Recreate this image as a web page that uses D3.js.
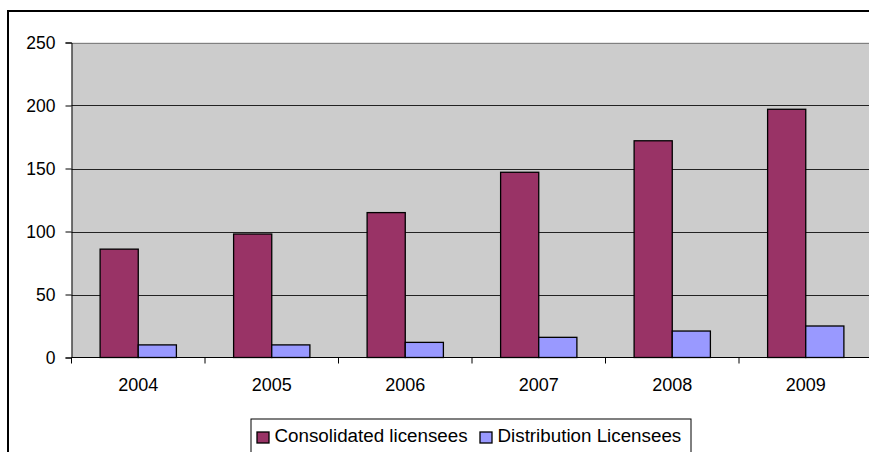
<!DOCTYPE html>
<html>
<head>
<meta charset="utf-8">
<script src="https://cdn.jsdelivr.net/npm/d3@7"></script>
<style>
  html, body { margin: 0; padding: 0; background: #fff; overflow: hidden; }
  svg { display: block; font-family: "Liberation Sans", Arial, sans-serif; }
</style>
</head>
<body>
<svg id="chart" width="900" height="452"></svg>
<script>
// Licensee counts per year
const years = ["2004", "2005", "2006", "2007", "2008", "2009"];
const consolidated = [86, 98, 115, 147, 172, 197];
const distribution = [10, 10, 12, 16, 21, 25];
const seriesNames = ["Consolidated licensees", "Distribution Licensees"];
const seriesColors = ["#993366", "#9999FF"];
const yTicks = [0, 50, 100, 150, 200, 250];

const svg = d3.select("#chart");
const plot = { left: 71.5, right: 872.5, top: 42.5, bottom: 357.5 };

// Outer chart frame
svg.append("rect")
  .attr("x", 8).attr("y", 11)
  .attr("width", 950).attr("height", 500)
  .attr("fill", "#fff").attr("stroke", "#000").attr("stroke-width", 2);

const x = d3.scaleBand().domain(years).range([plot.left, plot.right]);
const xInner = d3.scaleBand().domain(seriesNames)
  .range([0, x.bandwidth()]).paddingOuter(0.75).paddingInner(0);
const y = d3.scaleLinear().domain([0, 250]).range([plot.bottom, plot.top]);

// Plot area background
svg.append("rect")
  .attr("x", plot.left).attr("y", plot.top)
  .attr("width", plot.right - plot.left).attr("height", plot.bottom - plot.top)
  .attr("fill", "#CCCCCC");

// Horizontal gridlines
svg.append("g").selectAll("line")
  .data(yTicks.filter(t => t > 0))
  .join("line")
  .attr("x1", plot.left).attr("x2", plot.right)
  .attr("y1", d => Math.round(y(d)) + 0.5).attr("y2", d => Math.round(y(d)) + 0.5)
  .attr("stroke", d => d === 250 ? "#808080" : "#222")
  .attr("stroke-width", 1);

// Bars
const data = years.map((yr, i) => ({ year: yr, values: [consolidated[i], distribution[i]] }));
const groups = svg.append("g").selectAll("g")
  .data(data).join("g")
  .attr("transform", d => `translate(${x(d.year)},0)`);
groups.selectAll("rect")
  .data(d => d.values.map((v, j) => ({ v, name: seriesNames[j], color: seriesColors[j] })))
  .join("rect")
  .attr("x", d => xInner(d.name))
  .attr("width", xInner.bandwidth())
  .attr("y", d => y(d.v))
  .attr("height", d => y(0) - y(d.v))
  .attr("fill", d => d.color)
  .attr("stroke", "#000").attr("stroke-width", 1.3);

// Y axis
const yAxis = svg.append("g")
  .attr("transform", `translate(${plot.left},0)`)
  .call(d3.axisLeft(y).tickValues(yTicks).tickSize(6).tickPadding(10));
yAxis.select(".domain").attr("stroke", "#000");
yAxis.selectAll(".tick line").attr("stroke", "#000");
yAxis.selectAll("text").attr("font-size", 17.5).attr("fill", "#000")
  .attr("font-family", "'Liberation Sans', Arial, sans-serif");

// X axis with ticks at category boundaries
const xAxis = svg.append("g").attr("transform", `translate(0,${plot.bottom})`);
xAxis.append("line")
  .attr("x1", plot.left).attr("x2", plot.right)
  .attr("y1", 0).attr("y2", 0).attr("stroke", "#000");
xAxis.selectAll("line.tk")
  .data(years.concat(["end"]))
  .join("line").attr("class", "tk")
  .attr("x1", (d, i) => plot.left + i * x.step())
  .attr("x2", (d, i) => plot.left + i * x.step())
  .attr("y1", 0).attr("y2", 6).attr("stroke", "#000");
xAxis.selectAll("text")
  .data(years).join("text")
  .attr("x", d => x(d) + x.bandwidth() / 2)
  .attr("y", 33.5)
  .attr("text-anchor", "middle")
  .attr("font-size", 18).attr("fill", "#000")
  .text(d => d);

// Legend
const legend = svg.append("g");
legend.append("rect")
  .attr("x", 251).attr("y", 419).attr("width", 440).attr("height", 60)
  .attr("fill", "#fff").attr("stroke", "#000").attr("stroke-width", 1);
const legendX = [257, 480];
const items = legend.selectAll("g.item")
  .data(seriesNames).join("g").attr("class", "item")
  .attr("transform", (d, i) => `translate(${legendX[i]},432)`);
items.append("rect")
  .attr("width", 12).attr("height", 11)
  .attr("fill", (d, i) => seriesColors[i])
  .attr("stroke", "#000").attr("stroke-width", 1.3);
items.append("text")
  .attr("x", 17.5).attr("y", 10)
  .attr("font-size", 18.8).attr("fill", "#000")
  .text(d => d);
</script>
</body>
</html>
